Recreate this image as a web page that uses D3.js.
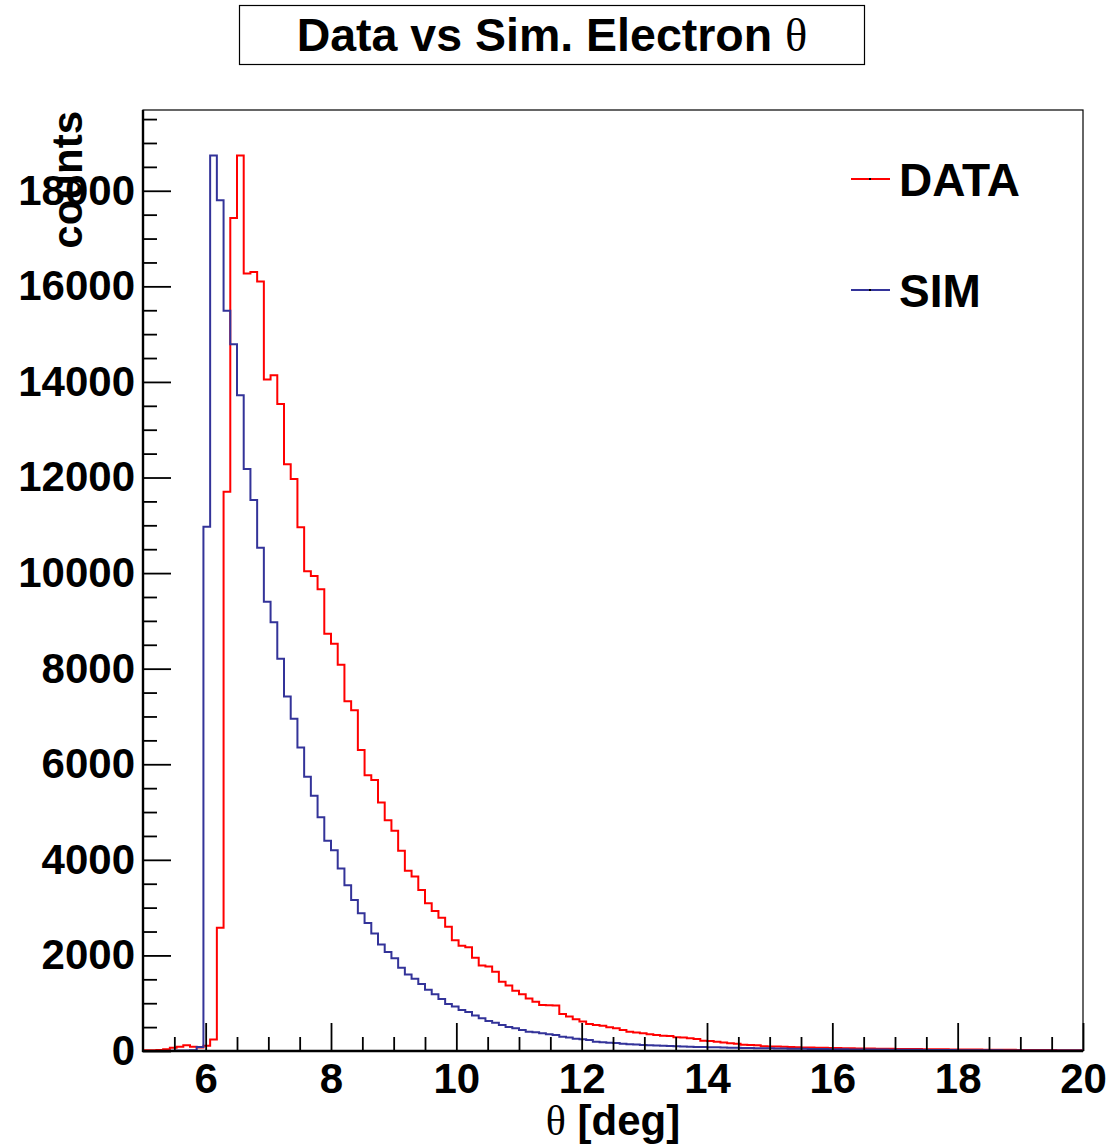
<!DOCTYPE html>
<html>
<head>
<meta charset="utf-8">
<script src="https://cdn.jsdelivr.net/npm/d3@7"></script>
<style>
  html, body { margin: 0; padding: 0; background: #fff; }
  svg { display: block; }
  text { font-family: "Liberation Sans", Arial, sans-serif; font-weight: bold; fill: #000; }
  .serif { font-family: "Liberation Serif", "Times New Roman", serif; font-weight: normal; }
</style>
</head>
<body>
<svg id="chart" width="1119" height="1147"></svg>
<script>
// ---- Data ----
const xRange = [5, 20];      // theta axis range [deg]
const nBins = 140;           // histogram bins across the range
const yMax = 19690;          // y axis upper limit

const dataCounts = [
  15, 15, 20, 35, 70, 90, 120, 90, 75, 110,
  240, 2580, 11700, 17430, 18740, 16270, 16300, 16100, 14050, 14140,
  13540, 12280, 11970, 10960, 10040, 9940, 9660, 8730, 8520, 8080,
  7320, 7130, 6300, 5770, 5670, 5200, 4830, 4610, 4190, 3770,
  3650, 3370, 3090, 2930, 2790, 2600, 2320, 2200, 2170, 1950,
  1790, 1770, 1660, 1450, 1370, 1260, 1190, 1100, 1030, 960,
  955, 950, 775, 720, 665, 615, 565, 545, 530, 495,
  475, 440, 405, 385, 370, 350, 335, 320, 315, 290,
  280, 265, 250, 215, 210, 195, 180, 160, 150, 130,
  125, 120, 100, 95, 92, 88, 85, 80, 75, 72,
  70, 67, 64, 62, 60, 56, 54, 52, 50, 48,
  46, 45, 44, 42, 41, 40, 38, 37, 36, 35,
  33, 32, 31, 30, 29, 28, 27, 26, 25, 24,
  23, 22, 21, 20, 20, 19, 18, 17, 17, 16
];

const simCounts = [
  0, 0, 0, 0, 5, 8, 10, 15, 85, 10970,
  18740, 17800, 15490, 14790, 13720, 12180, 11530, 10530, 9400, 8970,
  8210, 7420, 6950, 6350, 5740, 5340, 4890, 4400, 4200, 3820,
  3470, 3160, 2880, 2680, 2460, 2230, 2070, 1940, 1740, 1600,
  1510, 1400, 1280, 1190, 1090, 985, 930, 860, 815, 745,
  685, 630, 590, 545, 500, 475, 440, 405, 390, 370,
  350, 335, 300, 280, 258, 245, 230, 196, 182, 175,
  167, 150, 142, 135, 126, 120, 115, 110, 105, 100,
  95, 90, 86, 82, 79, 76, 73, 70, 67, 64,
  62, 60, 57, 55, 53, 51, 49, 47, 45, 43,
  42, 40, 39, 37, 36, 34, 33, 32, 31, 30,
  29, 28, 27, 26, 25, 24, 23, 22, 21, 20,
  19, 18, 17, 17, 16, 15, 15, 14, 13, 13,
  12, 12, 11, 11, 10, 10, 9, 9, 8, 8
];

const xMajorTicks = [6, 8, 10, 12, 14, 16, 18, 20];
const yMajorTicks = [0, 2000, 4000, 6000, 8000, 10000, 12000, 14000, 16000, 18000];

const titleText = "Data vs Sim. Electron ";
const legendLabels = ["DATA", "SIM"];

// ---- Layout ----
const svg = d3.select("#chart");
const L = 143, R = 1083, T = 110, B = 1051;

const x = d3.scaleLinear().domain(xRange).range([L, R]);
const y = d3.scaleLinear().domain([0, yMax]).range([B, T]);

const binW = (xRange[1] - xRange[0]) / nBins;
const edges = d3.range(nBins + 1).map(i => xRange[0] + i * binW);

function stepPoints(counts) {
  const pts = counts.map((c, i) => [edges[i], c]);
  pts.push([edges[nBins], counts[nBins - 1]]);
  return pts;
}
const stepLine = d3.line()
  .x(d => x(d[0]))
  .y(d => y(d[1]))
  .curve(d3.curveStepAfter);

// frame background
svg.append("rect").attr("x", L).attr("y", T).attr("width", R - L).attr("height", B - T)
  .attr("fill", "#fff").attr("stroke", "#000").attr("stroke-width", 1.2);

// histograms
svg.append("path").datum(stepPoints(dataCounts))
  .attr("d", stepLine).attr("fill", "none").attr("stroke", "#ff0000").attr("stroke-width", 2);
svg.append("path").datum(stepPoints(simCounts))
  .attr("d", stepLine).attr("fill", "none").attr("stroke", "#333399").attr("stroke-width", 2);

// x axis
const xMinor = d3.range(5.5, 20, 0.5).filter(v => !xMajorTicks.includes(v));
const gxMinor = svg.append("g").attr("transform", `translate(0,${B})`)
  .call(d3.axisBottom(x).tickValues(xMinor).tickSize(-14).tickFormat(""));
const gx = svg.append("g").attr("transform", `translate(0,${B})`)
  .call(d3.axisBottom(x).tickValues(xMajorTicks).tickSize(-28).tickPadding(12).tickFormat(d3.format("d")));

// y axis
const yMinor = d3.range(500, 19690, 500).filter(v => !yMajorTicks.includes(v));
const gyMinor = svg.append("g").attr("transform", `translate(${L},0)`)
  .call(d3.axisLeft(y).tickValues(yMinor).tickSize(-14).tickFormat(""));
const gy = svg.append("g").attr("transform", `translate(${L},0)`)
  .call(d3.axisLeft(y).tickValues(yMajorTicks).tickSize(-28).tickPadding(8).tickFormat(d3.format("d")));

[gx, gy, gxMinor, gyMinor].forEach(g => {
  g.select(".domain").remove();
  g.selectAll(".tick line").attr("stroke", "#000").attr("stroke-width", 1.8);
  g.selectAll(".tick text")
    .attr("font-family", "Liberation Sans, Arial, sans-serif")
    .attr("font-weight", "bold").attr("font-size", 42).attr("fill", "#000");
});

// thick left & bottom axis lines
svg.append("line").attr("x1", L).attr("x2", L).attr("y1", T).attr("y2", B + 1)
  .attr("stroke", "#000").attr("stroke-width", 2.4);
svg.append("line").attr("x1", L - 1).attr("x2", R).attr("y1", B).attr("y2", B)
  .attr("stroke", "#000").attr("stroke-width", 2.4);

// axis titles
const xt = svg.append("text").attr("x", (L + R) / 2).attr("y", 1135)
  .attr("text-anchor", "middle").attr("font-size", 42);
xt.append("tspan").attr("class", "serif").text("θ");
xt.append("tspan").text(" [deg]");

svg.append("text")
  .attr("transform", "translate(82,111) rotate(-90)")
  .attr("text-anchor", "end").attr("font-size", 42).text("counts");

// title box
svg.append("rect").attr("x", 239.5).attr("y", 5.5).attr("width", 625).attr("height", 59)
  .attr("fill", "#fff").attr("stroke", "#000").attr("stroke-width", 1.2);
const tt = svg.append("text").attr("x", 552).attr("y", 51)
  .attr("text-anchor", "middle").attr("font-size", 46.5);
tt.append("tspan").text(titleText);
tt.append("tspan").attr("class", "serif").text("θ");

// legend
const legColors = ["#ff0000", "#333399"];
const legY = [179, 290];
legendLabels.forEach((lab, i) => {
  svg.append("line").attr("x1", 851).attr("x2", 890).attr("y1", legY[i]).attr("y2", legY[i])
    .attr("stroke", legColors[i]).attr("stroke-width", 2);
  svg.append("rect").attr("x", 869).attr("y", legY[i] - 1).attr("width", 2).attr("height", 2)
    .attr("fill", "#000");
  svg.append("text").attr("x", 899).attr("y", legY[i] + 17)
    .attr("font-size", 46).text(lab);
});
</script>
</body>
</html>
